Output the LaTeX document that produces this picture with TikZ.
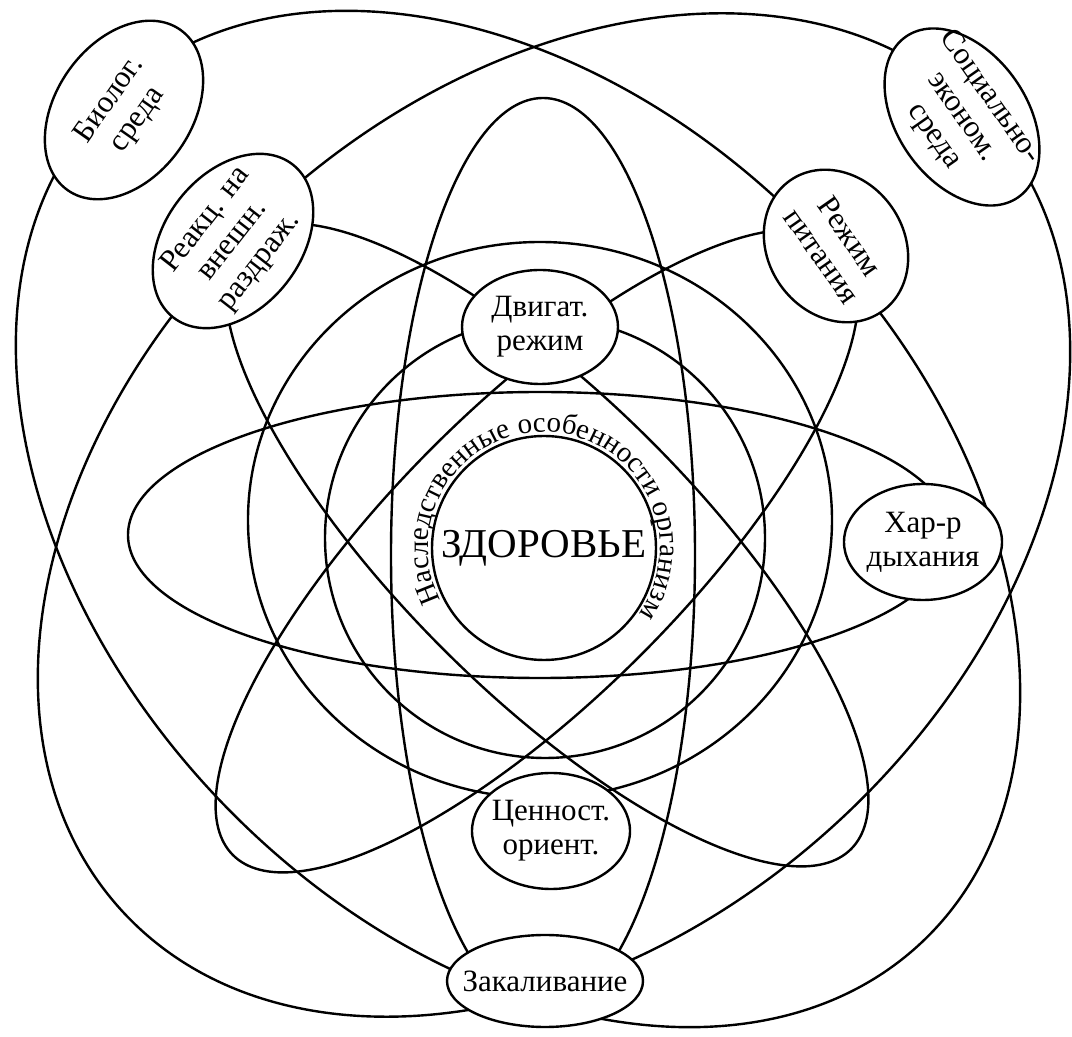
\documentclass[tikz,border=0pt]{standalone}
\usepackage{fontspec}
\setmainfont{Liberation Serif}
\usetikzlibrary{shapes.geometric,decorations.text}
\begin{document}
\begin{tikzpicture}[x=1pt,y=1pt,
  curve/.style={line width=2.4pt, black},
  lbl/.style={ellipse, draw, line width=2.4pt, fill=white, inner sep=-60pt, align=center,
              font=\fontsize{31}{34}\selectfont},
]
\useasboundingbox (0,0) rectangle (1072,1037);
\fill[white] (0,0) rectangle (1072,1037);

% big tilted ellipses
\draw[curve, rotate around={-46:(518,518)}] (518,518) ellipse [x radius=585, y radius=410];
\draw[curve, rotate around={42.5:(554,522)}] (554,522) ellipse [x radius=586, y radius=418];
% lens ellipses
\draw[curve, rotate around={-45:(547,492)}] (547,492) ellipse [x radius=430, y radius=147];
\draw[curve, rotate around={45:(537,486)}] (537,486) ellipse [x radius=430, y radius=147];
% vertical and horizontal ellipses
\draw[curve] (543,482) ellipse [x radius=152, y radius=457];
\draw[curve] (540,502) ellipse [x radius=412, y radius=143];
% rings
\draw[curve] (540,517) ellipse [x radius=292, y radius=278];
\draw[curve] (545,499) circle [radius=220];

% centre
\node[circle, draw, line width=2.4pt, minimum size=224pt, inner sep=0pt,
      font=\fontsize{41}{45}\selectfont] (health) at (544,489) {ЗДОРОВЬЕ};
\path[decorate, decoration={text along path, text align=fit to path,
      text={|\fontsize{29}{32}\selectfont|Наследственные особенности организма}}]
  (544,489) ++(207:116) arc[start angle=207, end angle=-32, radius=116];

% labels
\node[lbl, minimum width=196pt, minimum height=136pt, rotate=55] (bio) at (124,927) {Биолог.\\среда};
\node[lbl, minimum width=194pt, minimum height=136pt, rotate=52] (react) at (233,796) {Реакц. на\\внешн.\\раздраж.};
\node[lbl, minimum width=196pt, minimum height=130pt, rotate=-55] (soc) at (962,920) {Социально-\\эконом.\\среда};
\node[lbl, minimum width=160pt, minimum height=136pt, rotate=-55] (food) at (836,791) {Режим\\питания};
\node[lbl, minimum width=156pt, minimum height=114pt] (motor) at (540,710) {Двигат.\\режим};
\node[lbl, minimum width=158pt, minimum height=116pt] (breath) at (923,495) {Хар-р\\дыхания};
\node[lbl, minimum width=158pt, minimum height=116pt] (value) at (551,206) {Ценност.\\ориент.};
\node[lbl, minimum width=196pt, minimum height=92pt] (temper) at (545,56) {Закаливание};
\end{tikzpicture}
\end{document}
